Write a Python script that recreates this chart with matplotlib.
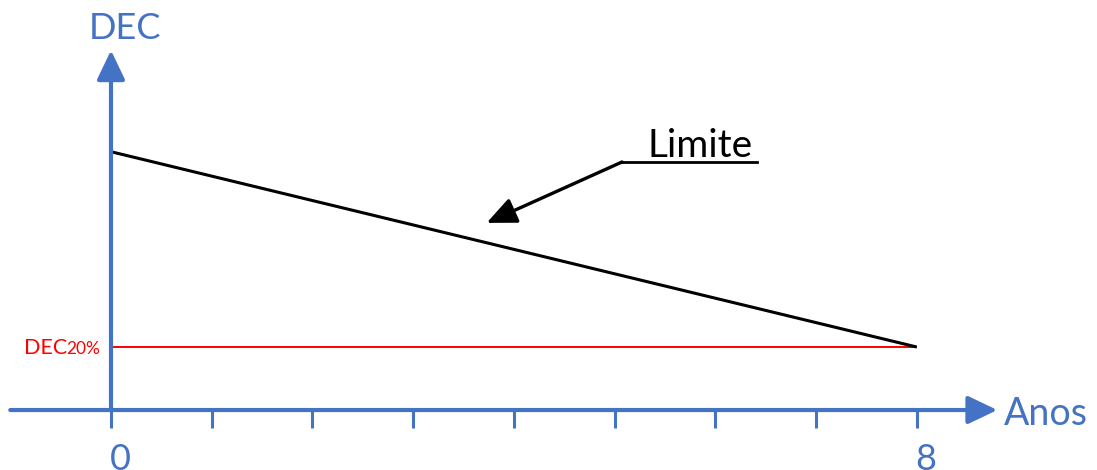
import matplotlib.pyplot as plt

# data
years = [0, 8]
limite = [4.1, 1.0]
dec_20 = [1.0, 1.0]
tick_years = list(range(9))
tick_labels = ['0', '', '', '', '', '', '', '', '8']

blue = '#4472C4'
red = '#FF0000'

plt.rcParams['font.family'] = ['Lato', 'DejaVu Sans']

fig = plt.figure(figsize=(10.97, 4.70), dpi=100)
ax = fig.add_axes([0, 0, 1, 1])
ax.set_xlim(-1.102, 9.79)
ax.set_ylim(-0.952, 6.508)
ax.axis('off')

# axes with arrow heads
arrow_style = '-|>,head_length=18,head_width=8.6'
ax.annotate('', xy=(8.80, 0), xytext=(-1.0, 0),
            arrowprops=dict(arrowstyle=arrow_style, mutation_scale=1, lw=3,
                            color=blue, shrinkA=0, shrinkB=0))
ax.annotate('', xy=(0, 5.71), xytext=(0, 0),
            arrowprops=dict(arrowstyle=arrow_style, mutation_scale=1, lw=3,
                            color=blue, shrinkA=0, shrinkB=0))

# ticks below the x axis
ax.vlines(tick_years, -0.286, 0, color=blue, lw=2.2)
for x, lab in zip(tick_years, tick_labels):
    if lab:
        ax.text(x + 0.09, -0.53, lab, color=blue, fontsize=26, ha='center', va='top')

ax.text(0.14, 6.06, 'DEC', color=blue, fontsize=26, ha='center', va='center')
ax.text(8.87, -0.06, 'Anos', color=blue, fontsize=27, ha='left', va='center')

# lines
ax.plot(years, dec_20, color=red, lw=1.4, solid_capstyle='butt')
ax.plot(years, limite, color='black', lw=2.2, solid_capstyle='butt')

# DEC20% label
ax.text(-0.436, 0.889, 'DEC', color=red, fontsize=15.5, ha='right', va='baseline')
ax.text(-0.44, 0.889, '20%', color=red, fontsize=12.5, ha='left', va='baseline')

# Limite annotation
ax.text(5.33, 4.016, 'Limite', color='black', fontsize=28, ha='left', va='baseline')
ax.plot([5.074, 6.415], [3.937, 3.937], color='black', lw=2)
ax.annotate('', xy=(3.73, 2.97), xytext=(5.074, 3.937),
            arrowprops=dict(arrowstyle='-|>,head_length=18,head_width=8', mutation_scale=1,
                            lw=2.4, color='black', shrinkA=0, shrinkB=0))

fig.savefig('out.png', dpi=100)
